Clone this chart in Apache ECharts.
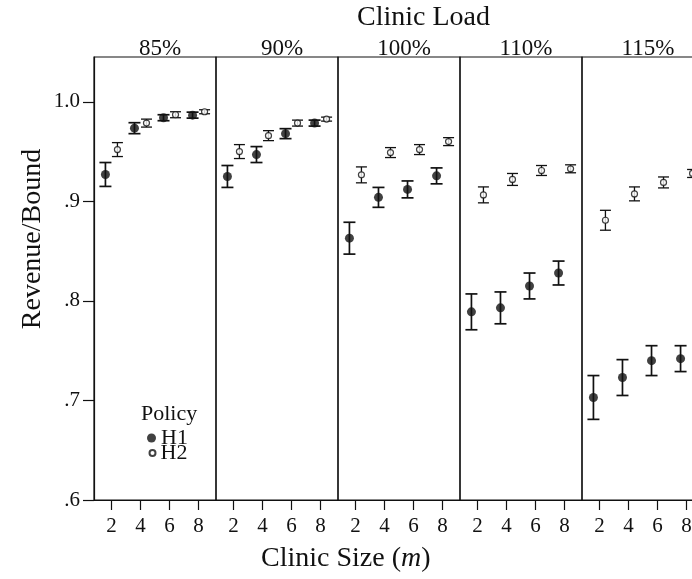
<!DOCTYPE html>
<html>
<head>
<meta charset="utf-8">
<title>Revenue/Bound by clinic load</title>
<script src="https://cdn.jsdelivr.net/npm/echarts@6/dist/echarts.min.js"></script>
<style type="text/css">
	* {margin: 0; padding: 0;}
	html, body {background: #fff; overflow: hidden; width: 692px; height: 579px;}
	/* the last panel runs past the right edge of the page, as in the original */
	#chart {width: 712px; height: 579px;}
</style>
</head>
<body>
<div id="chart"></div>
<script type="text/javascript">
	// clinic load panels and clinic sizes
	var loads = ['85%', '90%', '100%', '110%', '115%'];
	var sizes = [2, 4, 6, 8];
	var yTicks = [0.6, 0.7, 0.8, 0.9, 1.0];

	// policy H1: mean and half width of the error bar, one row per panel
	var h1Mean = [
		[0.927, 0.9735, 0.984, 0.9866],
		[0.925, 0.947, 0.968, 0.9786],
		[0.863, 0.904, 0.912, 0.9256],
		[0.789, 0.793, 0.815, 0.828],
		[0.703, 0.723, 0.740, 0.742]
	];
	var h1Err = [
		[0.012, 0.0055, 0.003, 0.003],
		[0.011, 0.008, 0.005, 0.003],
		[0.016, 0.010, 0.0085, 0.008],
		[0.018, 0.016, 0.013, 0.012],
		[0.022, 0.018, 0.015, 0.013]
	];

	// policy H2
	var h2Mean = [
		[0.952, 0.9786, 0.987, 0.990],
		[0.950, 0.966, 0.9786, 0.9826],
		[0.9266, 0.949, 0.952, 0.960],
		[0.9065, 0.922, 0.931, 0.9327],
		[0.881, 0.9075, 0.919, 0.928]
	];
	var h2Err = [
		[0.007, 0.004, 0.003, 0.002],
		[0.007, 0.005, 0.003, 0.002],
		[0.008, 0.005, 0.005, 0.004],
		[0.008, 0.006, 0.005, 0.004],
		[0.010, 0.007, 0.0055, 0.004]
	];

	var font = 'Liberation Serif';
	var ink = '#111';
	var chart = echarts.init(document.getElementById('chart'));

	function errBars(dx, half, lw) {
		return function (params, api) {
			var x = api.value(0), m = api.value(1), e = api.value(2);
			var top = api.coord([x, m + e]);
			var bot = api.coord([x, m - e]);
			var cx = top[0] + dx;
			var st = {stroke: ink, lineWidth: lw};
			return {
				type: 'group',
				children: [
					{type: 'line', shape: {x1: cx, y1: top[1], x2: cx, y2: bot[1]}, style: st},
					{type: 'line', shape: {x1: cx - half, y1: top[1], x2: cx + half, y2: top[1]}, style: st},
					{type: 'line', shape: {x1: cx - half, y1: bot[1], x2: cx + half, y2: bot[1]}, style: st}
				]
			};
		};
	}

	var grids = [], xAxes = [], yAxes = [], series = [];
	var panelW = 122;

	for (var i = 0; i < loads.length; i++) {
		grids.push({
			left: 94 + i * panelW, top: 57, width: panelW, height: 443,
			show: true, borderColor: ink, borderWidth: 1.2, backgroundColor: 'transparent'
		});
		xAxes.push({
			type: 'value', gridIndex: i, min: 0.8, max: 9.2,
			splitLine: {show: false},
			axisLine: {show: true, lineStyle: {color: ink, width: 1.2}},
			axisTick: {show: true, length: 10, customValues: sizes, lineStyle: {color: ink, width: 1.2}},
			axisLabel: {customValues: sizes, margin: 16, fontSize: 21, color: ink, fontFamily: font}
		});
		// top axis only carries the panel label
		xAxes.push({
			type: 'value', gridIndex: i, min: 0.8, max: 9.2, position: 'top',
			name: loads[i], nameLocation: 'middle', nameGap: -3,
			nameTextStyle: {fontSize: 23, color: ink, fontFamily: font, padding: [0, 0, 0, 10]},
			axisLine: {show: false}, axisTick: {show: false}, axisLabel: {show: false},
			splitLine: {show: false}
		});
		yAxes.push({
			type: 'value', gridIndex: i, min: 0.6, max: 1.045,
			splitLine: {show: false},
			axisLine: {show: i === 0, lineStyle: {color: ink, width: 1.2}},
			axisTick: {show: i === 0, length: 11, customValues: yTicks, lineStyle: {color: ink, width: 1.2}},
			axisLabel: {
				show: i === 0, customValues: yTicks, margin: 14, fontSize: 21, color: ink, fontFamily: font,
				formatter: function (v) { return v > 0.99 ? '1.0' : '.' + Math.round(v * 10); }
			}
		});

		var d1 = [], d2 = [], e1 = [], e2 = [];
		for (var j = 0; j < sizes.length; j++) {
			d1.push([sizes[j], h1Mean[i][j]]);
			d2.push([sizes[j], h2Mean[i][j]]);
			e1.push([sizes[j], h1Mean[i][j], h1Err[i][j]]);
			e2.push([sizes[j], h2Mean[i][j], h2Err[i][j]]);
		}
		series.push({
			name: 'H1', type: 'scatter', xAxisIndex: 2 * i, yAxisIndex: i, z: 5,
			symbol: 'circle', symbolSize: 9, symbolOffset: [-6, 0],
			itemStyle: {color: ink, borderWidth: 0},
			data: d1
		});
		series.push({
			name: 'H2', type: 'scatter', xAxisIndex: 2 * i, yAxisIndex: i, z: 5,
			symbol: 'circle', symbolSize: 6, symbolOffset: [6, 0],
			itemStyle: {color: '#fff', borderColor: ink, borderWidth: 1.2},
			data: d2
		});
		series.push({
			type: 'custom', xAxisIndex: 2 * i, yAxisIndex: i, z: 3,
			renderItem: errBars(-6, 6, 1.7), encode: {x: 0, y: 1}, data: e1
		});
		series.push({
			type: 'custom', xAxisIndex: 2 * i, yAxisIndex: i, z: 3,
			renderItem: errBars(6, 5.5, 1.3), encode: {x: 0, y: 1}, data: e2
		});
	}

	var legendText = {fontSize: 22, lineHeight: 16, color: ink, fontFamily: font, padding: [0, 0, 0, 0]};

	var option = {
		animation: false,
		backgroundColor: '#fff',
		textStyle: {fontFamily: font},
		grid: grids,
		xAxis: xAxes,
		yAxis: yAxes,
		legend: [
			{
				left: 147, top: 427, selectedMode: false, padding: 0,
				itemWidth: 9, itemHeight: 9, itemGap: 0, textStyle: legendText,
				data: [{name: 'H1', icon: 'circle'}]
			},
			{
				left: 148.5, top: 442, selectedMode: false, padding: 0,
				itemWidth: 6, itemHeight: 6, itemGap: 0, textStyle: legendText,
				data: [{name: 'H2', icon: 'circle'}]
			}
		],
		graphic: [
			{type: 'text', left: 357, top: 4, style: {text: 'Clinic Load', fill: ink, font: '28px "Liberation Serif"'}},
			{type: 'text', left: 141, top: 403, style: {text: 'Policy', fill: ink, font: '22px "Liberation Serif"'}},
			{
				type: 'text', x: 33, y: 239, rotation: Math.PI / 2,
				style: {text: 'Revenue/Bound', fill: ink, font: '28px "Liberation Serif"', align: 'center', verticalAlign: 'middle'}
			},
			{type: 'text', left: 261, top: 545, style: {
				text: '{a|Clinic Size (}{i|m}{a|)}',
				rich: {
					a: {fontSize: 28, fontFamily: font, fill: ink},
					i: {fontSize: 28, fontFamily: font, fontStyle: 'italic', fill: ink}
				}
			}}
		],
		series: series
	};

	chart.setOption(option);
</script>
</body>
</html>
